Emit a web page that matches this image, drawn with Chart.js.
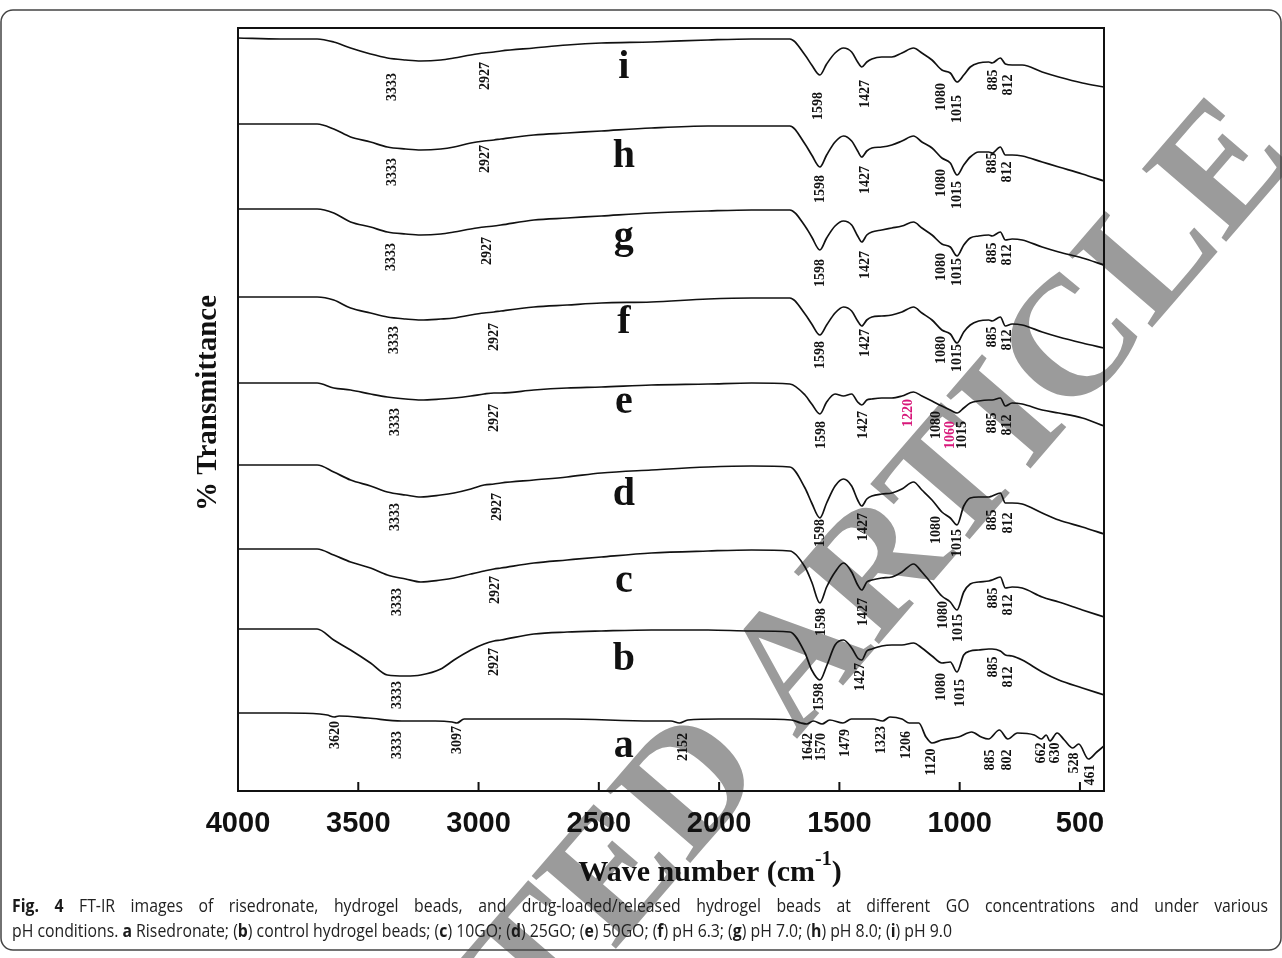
<!DOCTYPE html>
<html>
<head>
<meta charset="utf-8">
<title>FT-IR spectra of risedronate and hydrogel beads</title>
<script src="https://cdn.jsdelivr.net/npm/chart.js"></script>
<style>
    html, body { margin: 0; padding: 0; background: #fff; }
    #wrap { width: 1282px; height: 958px; }
</style>
</head>
<body>
<div id="wrap"><canvas id="ftir" width="1282" height="958"></canvas></div>
<script>
// wavenumber grid (cm-1) for spectra b..i
const waveGrid = [4000, 3824, 3671, 3602, 3532, 3449, 3379, 3303, 3240, 3157, 3102, 3032, 2977, 2936, 2907, 2770, 2632, 2490, 2282, 2046, 1865, 1706, 1643, 1615, 1581, 1553, 1518, 1483, 1449, 1424, 1407, 1386, 1365, 1324, 1282, 1240, 1192, 1157, 1115, 1074, 1039, 1011, 983, 956, 921, 879, 865, 831, 810, 782, 740, 657, 588, 490, 400];

// offset transmittance (a.u.)
const specI = [75.3, 75.2, 75.2, 74.9, 74.3, 73.7, 73.3, 73.1, 73.0, 73.1, 73.3, 73.6, 73.8, 73.9, 74.0, 74.3, 74.6, 74.8, 74.9, 75.1, 75.2, 75.2, 73.6, 72.6, 71.6, 72.7, 73.8, 74.3, 73.9, 72.9, 72.4, 72.9, 73.2, 73.4, 73.4, 73.8, 74.3, 73.8, 73.1, 72.1, 71.8, 70.9, 71.6, 72.4, 72.8, 72.9, 72.8, 73.3, 72.7, 72.6, 72.6, 71.9, 71.4, 70.8, 70.4];
const specH = [66.7, 66.7, 66.7, 66.2, 65.4, 64.9, 64.4, 64.2, 64.1, 64.2, 64.4, 64.8, 65.0, 65.1, 65.2, 65.6, 65.8, 66.0, 66.3, 66.5, 66.5, 66.5, 64.7, 63.6, 62.4, 63.6, 64.9, 65.5, 65.0, 64.0, 63.4, 64.0, 64.3, 64.4, 64.6, 65.0, 65.5, 64.9, 64.3, 63.3, 62.8, 61.6, 62.6, 63.4, 63.9, 63.9, 63.8, 64.4, 63.6, 63.6, 63.5, 62.9, 62.4, 61.7, 61.0];
const specG = [58.2, 58.2, 58.2, 57.8, 56.9, 56.4, 55.9, 55.7, 55.6, 55.7, 55.9, 56.2, 56.4, 56.5, 56.6, 57.1, 57.3, 57.5, 57.8, 58.0, 58.1, 58.1, 56.5, 55.4, 54.1, 55.3, 56.5, 57.0, 56.6, 55.5, 54.9, 55.6, 55.9, 56.1, 56.3, 56.5, 56.9, 56.3, 55.6, 54.7, 54.4, 53.5, 54.6, 55.3, 55.5, 55.6, 55.5, 55.9, 55.1, 55.2, 55.1, 54.4, 53.9, 53.3, 52.6];
const specF = [49.4, 49.4, 49.4, 49.1, 48.3, 47.8, 47.4, 47.2, 47.1, 47.2, 47.3, 47.6, 47.8, 47.9, 48.0, 48.4, 48.6, 48.8, 48.9, 49.2, 49.3, 49.3, 47.7, 46.7, 45.6, 46.6, 47.8, 48.4, 48.0, 47.0, 46.5, 47.1, 47.4, 47.5, 47.6, 47.9, 48.4, 47.8, 47.1, 46.1, 45.7, 44.8, 45.9, 46.6, 47.0, 47.1, 47.0, 47.4, 46.5, 46.7, 46.6, 45.9, 45.4, 44.8, 44.3];
const specE = [40.8, 40.8, 40.8, 40.3, 40.1, 39.7, 39.4, 39.2, 39.1, 39.2, 39.3, 39.5, 39.7, 39.8, 39.8, 40.1, 40.3, 40.4, 40.6, 40.7, 40.8, 40.7, 39.6, 38.7, 37.7, 38.9, 39.7, 39.5, 39.7, 38.9, 38.6, 39.1, 39.2, 39.3, 39.3, 39.5, 39.9, 39.5, 39.0, 38.5, 38.1, 37.8, 38.3, 38.8, 39.0, 39.1, 39.1, 39.3, 38.5, 38.8, 38.7, 38.1, 37.8, 37.3, 36.5];
const specD = [32.6, 32.6, 32.6, 31.9, 31.1, 30.5, 29.9, 29.6, 29.4, 29.6, 29.8, 30.2, 30.6, 30.7, 30.8, 31.1, 31.4, 31.8, 32.1, 32.4, 32.5, 32.4, 30.3, 28.8, 27.3, 28.8, 30.5, 31.2, 30.5, 29.1, 28.5, 29.2, 29.5, 29.7, 29.8, 30.2, 30.9, 30.1, 29.1, 27.9, 27.3, 26.6, 28.5, 29.3, 29.4, 29.4, 29.5, 29.8, 28.8, 28.8, 28.7, 27.8, 27.1, 26.4, 25.7];
const specC = [24.2, 24.2, 24.2, 23.6, 22.9, 22.3, 21.6, 21.2, 20.9, 21.1, 21.3, 21.7, 22.0, 22.2, 22.3, 22.8, 23.1, 23.4, 23.8, 24.0, 24.1, 24.0, 22.4, 20.9, 18.8, 20.4, 21.9, 22.8, 21.9, 20.6, 20.1, 20.9, 21.1, 21.3, 21.4, 21.9, 22.7, 21.9, 20.7, 19.5, 18.9, 18.1, 19.9, 20.7, 20.9, 21.0, 21.1, 21.4, 20.3, 20.4, 20.3, 19.4, 18.9, 18.1, 17.4];
const specB = [16.2, 16.2, 16.2, 15.1, 14.1, 12.8, 11.6, 11.5, 11.6, 12.2, 13.1, 14.1, 14.7, 15.0, 15.1, 15.7, 15.9, 16.0, 16.1, 16.1, 16.0, 15.9, 13.8, 12.1, 11.1, 12.5, 14.6, 15.1, 14.3, 13.3, 13.1, 14.0, 14.2, 14.5, 14.6, 14.6, 14.8, 14.3, 13.5, 12.8, 12.9, 11.9, 13.6, 14.0, 14.1, 14.2, 14.2, 14.0, 13.6, 13.5, 13.1, 11.9, 11.1, 10.3, 9.6];

// risedronate (a) has its own, denser grid
const waveA = [4000, 3800, 3660, 3629, 3600, 3580, 3460, 3320, 3180, 3110, 3090, 3060, 2920, 2640, 2280, 2200, 2165, 2130, 2000, 1860, 1700, 1660, 1636, 1608, 1572, 1540, 1485, 1450, 1360, 1320, 1290, 1240, 1210, 1170, 1140, 1115, 1075, 1005, 950, 910, 880, 835, 800, 760, 690, 660, 640, 625, 595, 565, 530, 505, 465, 430, 400];
const specA = [7.8, 7.8, 7.7, 7.6, 7.4, 7.5, 7.3, 7.0, 7.0, 6.9, 6.8, 7.2, 7.2, 7.2, 7.0, 7.0, 6.8, 7.1, 7.2, 7.2, 7.1, 6.8, 6.7, 7.0, 6.7, 7.1, 6.8, 7.2, 7.2, 7.0, 7.4, 7.2, 6.8, 6.8, 5.4, 4.8, 5.1, 5.4, 5.9, 5.4, 5.2, 6.1, 5.2, 5.8, 5.6, 5.2, 5.6, 5.0, 5.8, 5.1, 4.3, 4.7, 3.2, 3.9, 4.5];

const xTicks = [4000, 3500, 3000, 2500, 2000, 1500, 1000, 500];
const curveNames = ['a', 'b', 'c', 'd', 'e', 'f', 'g', 'h', 'i'];

// where the curve letters and peak numbers sit (wavenumber, offset value)
const letterWave = 2396;
const letterBase = [3.4, 12.1, 19.9, 28.6, 37.8, 45.8, 54.3, 62.4, 71.3];
const pink = '#d8177a';
const peakLabels = [
    ['3333', 3358, 70.4], ['2927', 2970, 71.5], ['1598', 1587, 68.5], ['1427', 1393, 69.7], ['1080', 1074, 69.4], ['1015', 1011, 68.2], ['885', 858, 71.1], ['812', 796, 70.6],
    ['3333', 3358, 61.9], ['2927', 2970, 63.2], ['1598', 1581, 60.2], ['1427', 1393, 61.1], ['1080', 1074, 60.8], ['1015', 1011, 59.6], ['885', 865, 62.8], ['812', 803, 61.9],
    ['3333', 3362, 53.4], ['2927', 2963, 54.0], ['1598', 1581, 51.8], ['1427', 1393, 52.6], ['1080', 1074, 52.4], ['1015', 1011, 51.9], ['885', 865, 53.8], ['812', 803, 53.6],
    ['3333', 3350, 45.1], ['2927', 2935, 45.4], ['1598', 1581, 43.6], ['1427', 1393, 44.8], ['1080', 1074, 44.1], ['1015', 1011, 43.3], ['885', 865, 45.4], ['812', 803, 45.1],
    ['3333', 3345, 36.9], ['2927', 2935, 37.3], ['1598', 1574, 35.6], ['1427', 1400, 36.6], ['1220', 1212, 37.8, pink], ['1080', 1095, 36.6], ['1060', 1039, 35.6, pink], ['1015', 990, 35.6], ['885', 865, 36.8], ['812', 803, 36.6],
    ['3333', 3345, 27.4], ['2927', 2921, 28.4], ['1598', 1581, 25.8], ['1427', 1400, 26.4], ['1080', 1095, 26.1], ['1015', 1011, 24.8], ['885', 865, 27.1], ['812', 796, 26.8],
    ['3333', 3337, 18.9], ['2927', 2928, 20.1], ['1598', 1574, 16.9], ['1427', 1400, 17.9], ['1080', 1067, 17.6], ['1015', 1004, 16.3], ['885', 858, 19.3], ['812', 796, 18.6],
    ['3333', 3337, 9.6], ['2927', 2935, 12.9], ['1598', 1585, 9.4], ['1427', 1414, 11.4], ['1080', 1074, 10.4], ['1015', 997, 9.8], ['885', 858, 12.4], ['812', 796, 11.4],
    ['3620', 3595, 5.6], ['3333', 3337, 4.6], ['3097', 3087, 5.1], ['2152', 2150, 4.4], ['1642', 1627, 4.4], ['1570', 1574, 4.4], ['1479', 1474, 4.8], ['1323', 1324, 5.1], ['1206', 1220, 4.6], ['1120', 1118, 2.9], ['885', 872, 3.1], ['802', 803, 3.1], ['662', 660, 3.8], ['630', 602, 3.8], ['528', 525, 2.8], ['461', 456, 1.6]
];

const spectra = [
    [waveA, specA], [waveGrid, specB], [waveGrid, specC], [waveGrid, specD], [waveGrid, specE],
    [waveGrid, specF], [waveGrid, specG], [waveGrid, specH], [waveGrid, specI]
];

const serif = '"Liberation Serif", "Times New Roman", serif';
const sans = '"Liberation Sans", Arial, sans-serif';
const capFont = '"Liberation Sans Narrow", "Open Sans", sans-serif';

const captionLines = [
    [['Fig. 4', true], [' FT-IR images of risedronate, hydrogel beads, and drug-loaded/released hydrogel beads at different GO concentrations and under various', false]],
    [['pH conditions. ', false], ['a', true], [' Risedronate; (', false], ['b', true], [') control hydrogel beads; (', false], ['c', true], [') 10GO; (', false],
     ['d', true], [') 25GO; (', false], ['e', true], [') 50GO; (', false], ['f', true], [') pH 6.3; (', false], ['g', true], [') pH 7.0; (', false],
     ['h', true], [') pH 8.0; (', false], ['i', true], [') pH 9.0', false]]
];

function drawWatermark(ctx) {
    ctx.save();
    ctx.fillStyle = '#9b9b9b';
    ctx.font = 'bold 170px ' + serif;
    ctx.textBaseline = 'middle';
    ctx.textAlign = 'left';
    const text = 'RETRACTED ARTICLE';
    const ang = Math.atan2(-620, 535);
    const toD = ctx.measureText('RETRACTE').width + ctx.measureText('D').width / 2;
    const cx = 695 - toD * Math.cos(ang), cy = 790 - toD * Math.sin(ang);
    ctx.translate(cx, cy);
    ctx.rotate(ang);
    ctx.fillText(text, 0, 0);
    ctx.restore();
}

// caption line; gap = extra pixels added at every space (justified line)
function drawRich(ctx, parts, x, y, sx, size, gap) {
    ctx.save();
    ctx.translate(x, y);
    ctx.scale(sx, 1);
    let pos = 0;
    parts.forEach(([t, bold]) => {
        ctx.font = (bold ? 'bold ' : '') + size + 'px ' + capFont;
        ctx.fillStyle = bold ? '#1a1a1a' : '#222';
        t.split(/( )/).forEach(piece => {
            if (!piece) return;
            ctx.fillText(piece, pos, 0);
            pos += ctx.measureText(piece).width;
            if (piece === ' ') pos += gap / sx;
        });
    });
    ctx.restore();
}

function richWidth(ctx, parts, size) {
    let w = 0;
    parts.forEach(([t, bold]) => {
        ctx.font = (bold ? 'bold ' : '') + size + 'px ' + capFont;
        w += ctx.measureText(t).width;
    });
    return w;
}

const decor = {
    id: 'decor',
    beforeDraw(chart) {
        drawWatermark(chart.ctx);
    },
    afterDraw(chart) {
        const { ctx, chartArea: ca, scales: { x, y } } = chart;
        ctx.save();

        // plot frame + inward tick marks
        ctx.strokeStyle = '#111';
        ctx.lineWidth = 2;
        ctx.strokeRect(ca.left, ca.top, ca.right - ca.left, ca.bottom - ca.top);
        xTicks.forEach(v => {
            const px = x.getPixelForValue(v);
            ctx.beginPath();
            ctx.moveTo(px, ca.bottom);
            ctx.lineTo(px, ca.bottom - 9);
            ctx.stroke();
        });

        // peak positions, rotated
        ctx.font = 'bold 14px ' + serif;
        ctx.textAlign = 'center';
        ctx.textBaseline = 'middle';
        peakLabels.forEach(([t, w, v, col]) => {
            ctx.save();
            ctx.translate(x.getPixelForValue(w), y.getPixelForValue(v));
            ctx.rotate(-Math.PI / 2);
            ctx.fillStyle = col || '#111';
            ctx.fillText(t, 0, 0);
            ctx.restore();
        });

        // curve letters
        ctx.font = 'bold 40px ' + serif;
        ctx.textBaseline = 'alphabetic';
        ctx.fillStyle = '#111';
        curveNames.forEach((n, i) => {
            ctx.fillText(n, x.getPixelForValue(letterWave), y.getPixelForValue(letterBase[i]));
        });

        // y title
        ctx.save();
        ctx.translate(209, 403);
        ctx.rotate(-Math.PI / 2);
        ctx.font = 'bold 29px ' + serif;
        ctx.textBaseline = 'middle';
        ctx.fillText('% Transmittance', 0, 0);
        ctx.restore();

        // x title with superscript
        ctx.textAlign = 'left';
        ctx.textBaseline = 'alphabetic';
        ctx.font = 'bold 30px ' + serif;
        const t1 = 'Wave number (cm';
        const w1 = ctx.measureText(t1).width;
        ctx.font = 'bold 20px ' + serif;
        const w2 = ctx.measureText('-1').width;
        ctx.font = 'bold 30px ' + serif;
        const w3 = ctx.measureText(')').width;
        const tx = 710 - (w1 + w2 + w3) / 2;
        const ty = 881;
        ctx.fillText(t1, tx, ty);
        ctx.font = 'bold 20px ' + serif;
        ctx.fillText('-1', tx + w1, ty - 16);
        ctx.font = 'bold 30px ' + serif;
        ctx.fillText(')', tx + w1 + w2, ty);

        // caption: last line at natural width, first line justified
        const capSize = 18;
        const sx = 940 / richWidth(ctx, captionLines[1], capSize);
        const nat1 = richWidth(ctx, captionLines[0], capSize) * sx;
        const spaces = captionLines[0].map(p => p[0]).join('').split(' ').length - 1;
        drawRich(ctx, captionLines[0], 12, 912, sx, capSize, Math.max(0, (1256 - nat1) / spaces));
        drawRich(ctx, captionLines[1], 12, 937, sx, capSize, 0);

        // rounded outer border
        ctx.strokeStyle = '#444';
        ctx.lineWidth = 1.5;
        ctx.beginPath();
        ctx.roundRect(1, 10, 1280, 940, 12);
        ctx.stroke();

        ctx.restore();
    }
};

new Chart(document.getElementById('ftir'), {
    type: 'line',
    data: {
        datasets: spectra.map(([w, s], i) => ({
            label: curveNames[i],
            data: w.map((wn, k) => ({ x: wn, y: s[k] })),
            borderColor: '#111',
            borderWidth: 1.7,
            pointRadius: 0,
            fill: false,
            cubicInterpolationMode: 'monotone'
        }))
    },
    options: {
        responsive: false,
        animation: false,
        layout: { padding: { top: 28, right: 178, left: 238, bottom: 0 } },
        plugins: { legend: { display: false }, tooltip: { enabled: false } },
        scales: {
            x: {
                type: 'linear',
                reverse: true,
                min: 400,
                max: 4000,
                grid: { display: false },
                border: { display: false },
                afterBuildTicks: s => { s.ticks = xTicks.map(v => ({ value: v })); },
                afterFit: s => { s.height = 167; },
                ticks: {
                    color: '#111',
                    padding: 8,
                    maxRotation: 0,
                    autoSkip: false,
                    callback: v => String(v),
                    font: { family: sans, size: 29, weight: 'bold' }
                }
            },
            y: {
                display: false,
                min: 0,
                max: 76.3
            }
        }
    },
    plugins: [decor]
});
</script>
</body>
</html>
